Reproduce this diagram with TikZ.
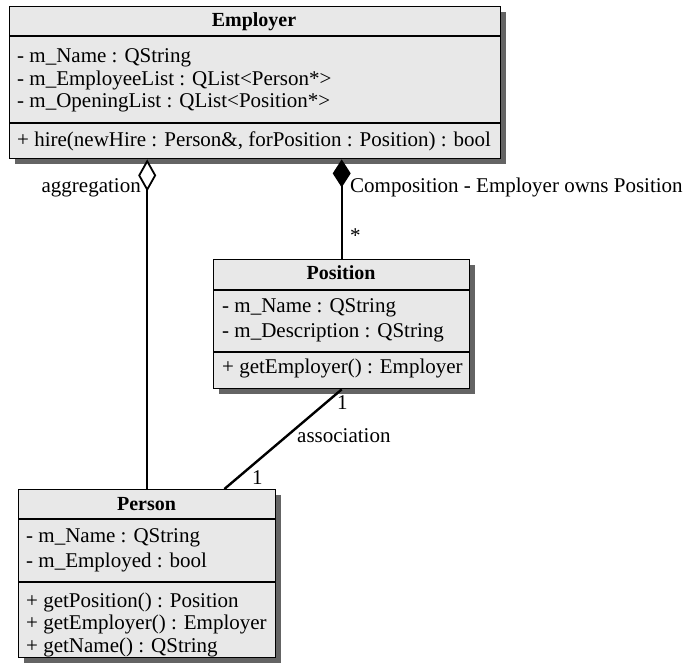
\documentclass[tikz,border=0pt]{standalone}
\usepackage{fontspec}
\setmainfont{Liberation Serif}
\usetikzlibrary{arrows.meta,shadows,calc}
\definecolor{boxfill}{RGB}{232,232,232}
\definecolor{shade}{RGB}{100,100,100}
\begin{document}
\begin{tikzpicture}[x=1pt,y=-1pt,
  classbox/.style={draw=black,line width=1.4pt,fill=boxfill,inner sep=0pt,
    anchor=north west,
    drop shadow={shadow xshift=5pt,shadow yshift=-5pt,fill=shade,opacity=1}},
  sep/.style={line width=1.2pt},
  txt/.style={anchor=base west,inner sep=0pt,font=\fontsize{21}{23}\selectfont},
  ttl/.style={anchor=base,inner sep=0pt,font=\fontsize{20}{23}\selectfont\bfseries},
  lbl/.style={inner sep=0pt,font=\fontsize{21}{23}\selectfont},
  link/.style={line width=2.4pt}]
\useasboundingbox (0,0) rectangle (689,668);

% Employer class
\node[classbox,minimum width=491pt,minimum height=152pt] (emp) at (9,6) {};
\draw[sep] (9,36) -- (500,36);
\draw[sep] (9,123) -- (500,123);
\node[ttl] (empt) at (254,27) {Employer};
\node[txt] (empa1) at (17,63) {- m\_Name : QString};
\node[txt] (empa2) at (17,86) {- m\_EmployeeList : QList<Person*>};
\node[txt] (empa3) at (17,108) {- m\_OpeningList : QList<Position*>};
\node[txt] (empo1) at (17,147) {+ hire(newHire : Person\&, forPosition : Position) : bool};

% Position class
\node[classbox,minimum width=256pt,minimum height=129pt] (pos) at (213,259) {};
\draw[sep] (213,290) -- (469,290);
\draw[sep] (213,352) -- (469,352);
\node[ttl] (post) at (341,280) {Position};
\node[txt] (posa1) at (222,313) {- m\_Name : QString};
\node[txt] (posa2) at (222,338) {- m\_Description : QString};
\node[txt] (poso1) at (222,374) {+ getEmployer() : Employer};

% Person class
\node[classbox,minimum width=257pt,minimum height=168pt] (per) at (18,489) {};
\draw[sep] (18,519) -- (275,519);
\draw[sep] (18,582) -- (275,582);
\node[ttl] (pert) at (146.5,511) {Person};
\node[txt] (pera1) at (26,543) {- m\_Name : QString};
\node[txt] (pera2) at (26,568) {- m\_Employed : bool};
\node[txt] (pero1) at (26,607) {+ getPosition() : Position};
\node[txt] (pero2) at (26,629) {+ getEmployer() : Employer};
\node[txt] (pero3) at (26,652) {+ getName() : QString};

% Relations
\draw[link,{Diamond[open,fill=white,line width=1.8pt,length=32pt,width=18pt]}-]
  (emp.south -| per.north) -- (per.north);
\draw[link,{Diamond[fill=black,length=28pt,width=18pt]}-]
  (emp.south -| pos.north) -- (pos.north);
\draw[link] (pos.south) -- ([xshift=-52pt]per.north east);

% Labels
\node[lbl,anchor=base east] (laggr) at (141,193) {aggregation};
\node[lbl,anchor=base west] (lcomp) at (350,193) {Composition - Employer owns Position};
\node[lbl,anchor=base west] (lstar) at (350,243) {*};
\node[lbl,anchor=base west] (lone1) at (337,410) {1};
\node[lbl,anchor=base west] (lassoc) at (297,443) {association};
\node[lbl,anchor=base west] (lone2) at (252,485) {1};
\end{tikzpicture}
\end{document}
